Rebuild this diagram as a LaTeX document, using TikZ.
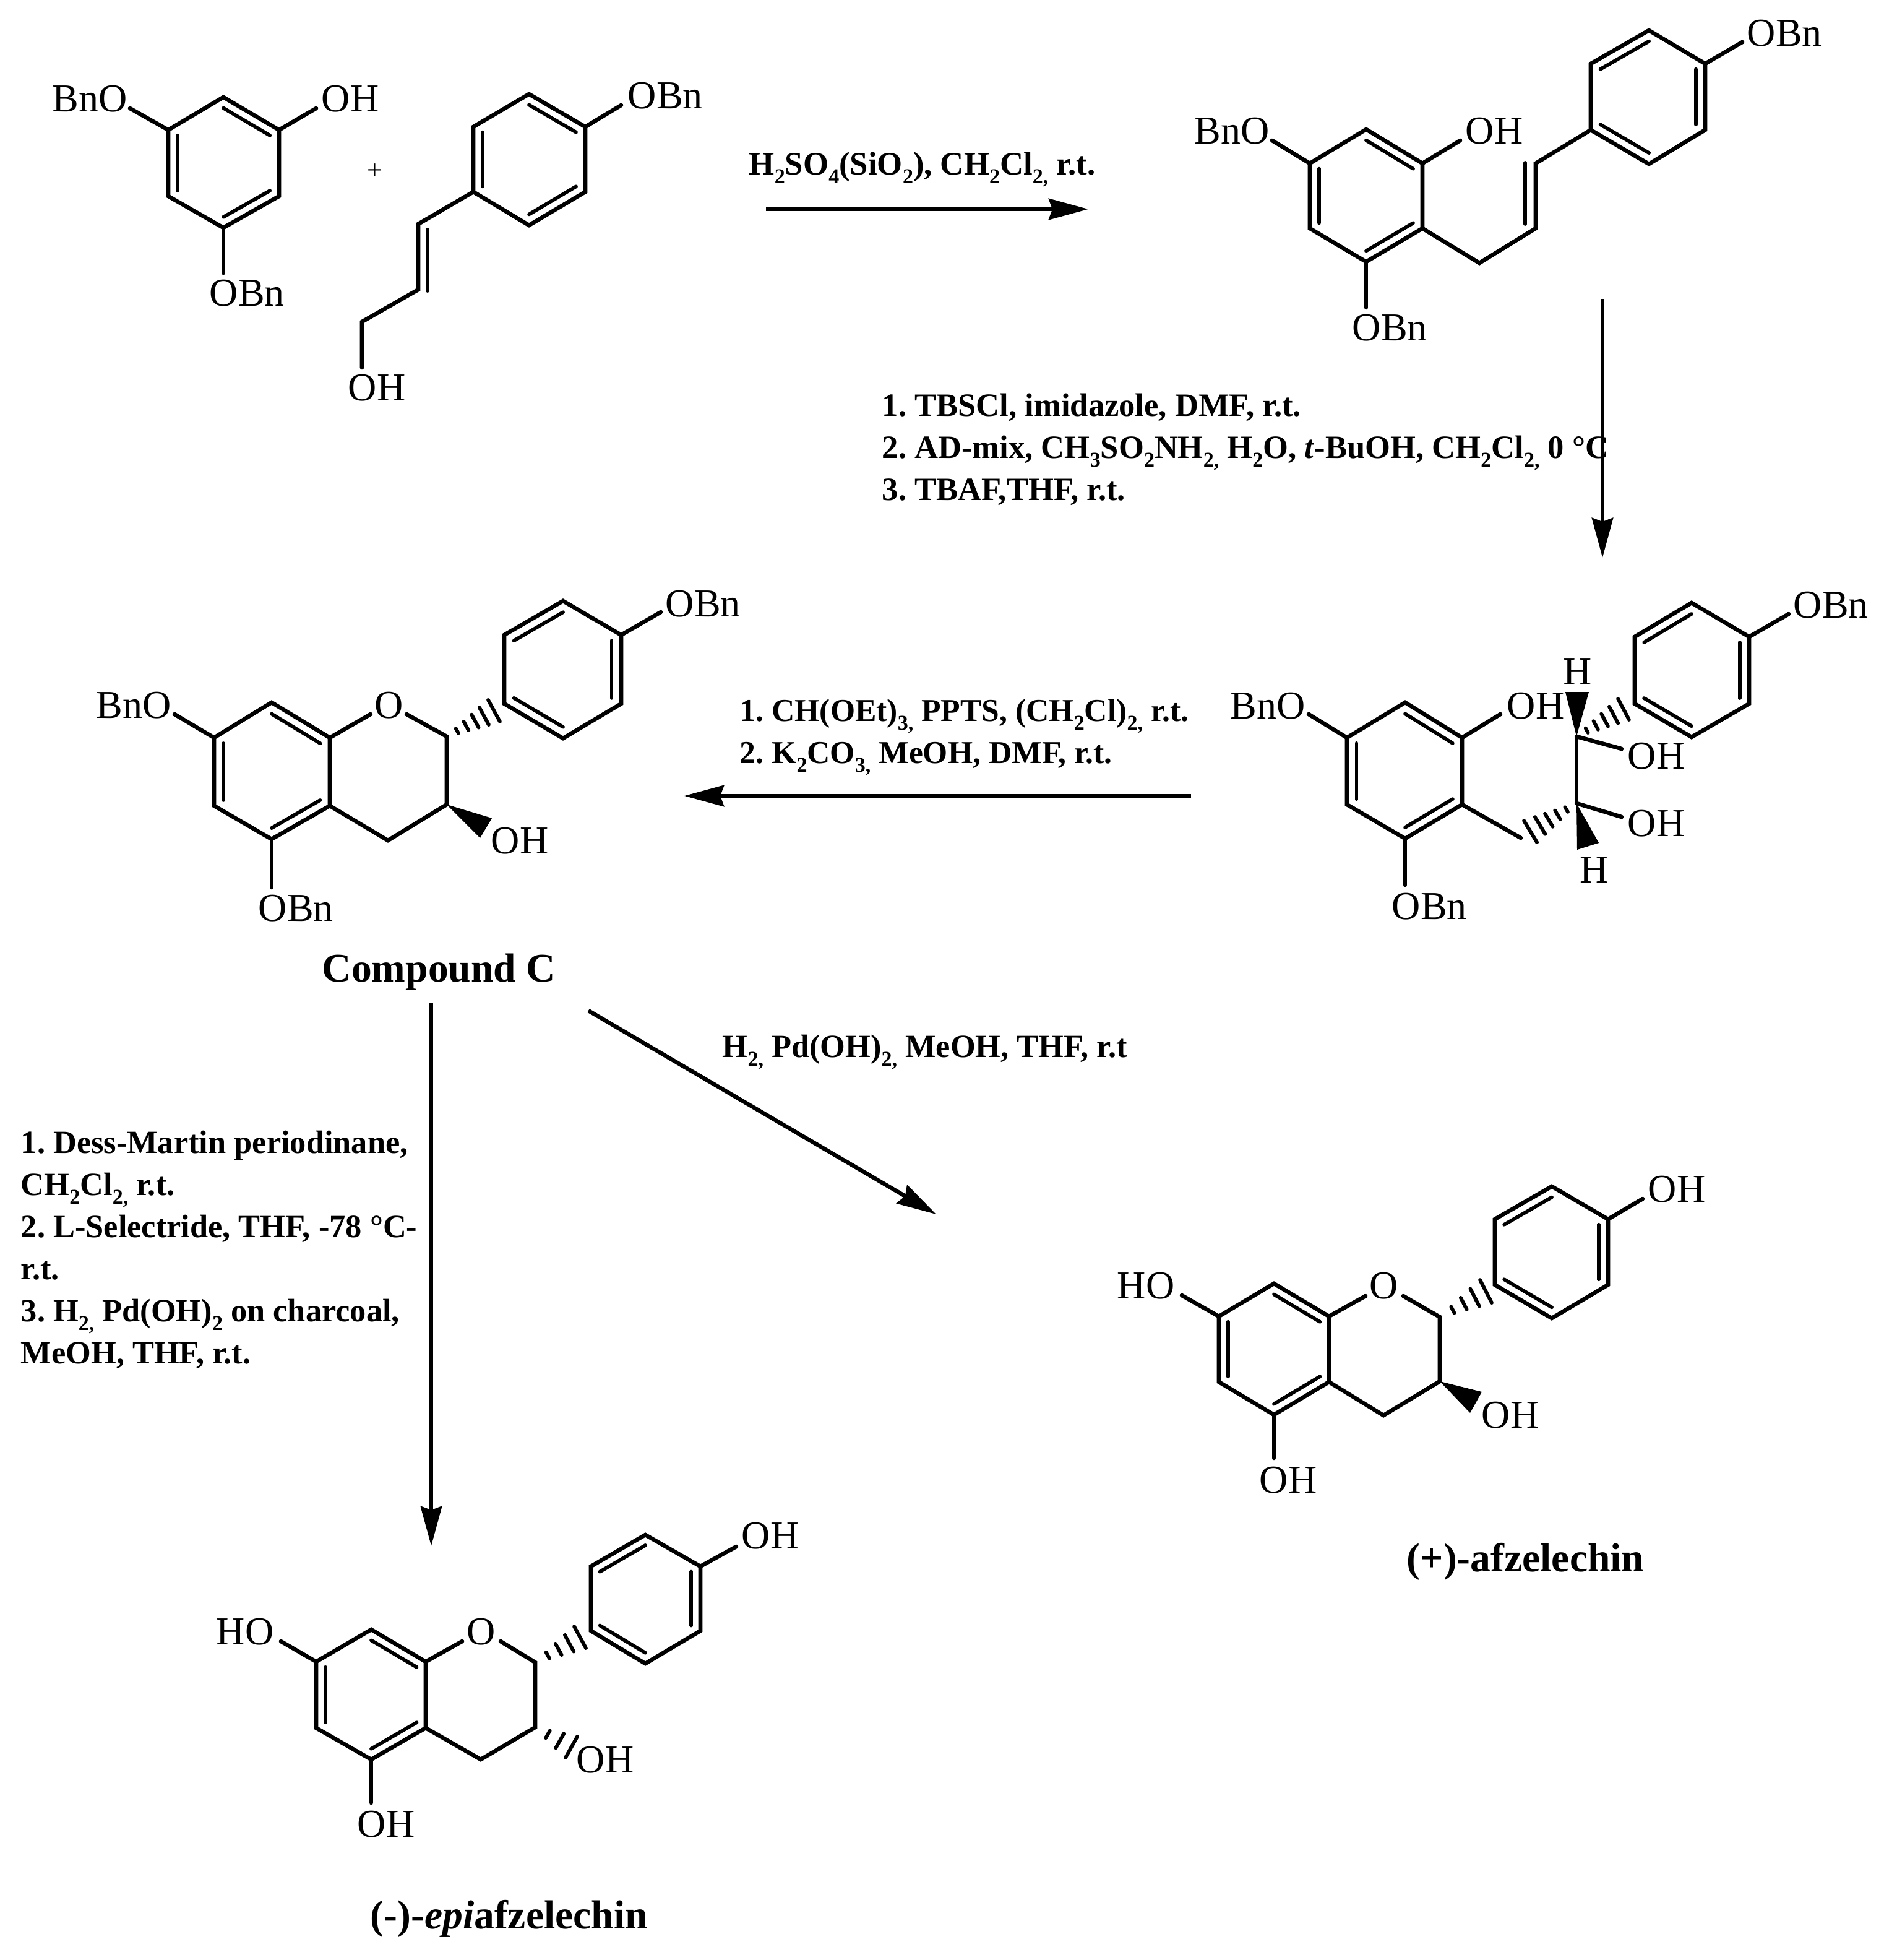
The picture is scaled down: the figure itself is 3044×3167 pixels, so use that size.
\documentclass[tikz,border=0pt]{standalone}
\usepackage{fontspec}
\setmainfont{Liberation Serif}
\usetikzlibrary{calc,arrows.meta}
\tikzset{
  bond/.style={line width=1.65pt,line cap=round,line join=miter},
  innerbond/.style={line width=1.45pt,line cap=round},
  hashbond/.style={line width=1.45pt,line cap=round},
  rxn/.style={line width=1.65pt,-{Stealth[length=16pt,width=8.5pt,inset=1.5pt]}},
  atomlab/.style={inner sep=0pt,anchor=base west,font=\fontsize{16}{16}\selectfont},
  reag/.style={inner sep=0pt,anchor=base west,align=left},
  ttl/.style={inner sep=0pt,anchor=base west,font=\bfseries\fontsize{16.4}{18}\selectfont}
}
\newcommand{\rf}[1]{\bfseries\fontsize{#1}{17}\selectfont\frenchspacing}
\newcommand{\dn}[1]{\raisebox{-3.5pt}{\fontsize{8.5}{8.5}\selectfont #1}}
% prefix, xleft, xmid, xright, ytop, y2, y3, ybottom
\newcommand{\hexa}[8]{%
  \coordinate (#11) at (#2,#6);
  \coordinate (#12) at (#3,#5);
  \coordinate (#13) at (#4,#6);
  \coordinate (#14) at (#4,#7);
  \coordinate (#15) at (#3,#8);
  \coordinate (#16) at (#2,#7);
  \coordinate (#1c) at (#3,{(#6+#7)/2});
  \draw[bond] (#11)--(#12)--(#13)--(#14)--(#15)--(#16)--cycle;}
\newcommand{\dbl}[3]{\draw[innerbond] ($(#1#2)!.165!(#1c)$) -- ($(#1#3)!.165!(#1c)$);}
\newcommand{\hashw}[4]{\foreach \t in {#4} \draw[hashbond] ($(#1)!\t!(#2)$) -- ($(#1)!\t!(#3)$);}
\newcommand{\solidw}[3]{\fill (#1) -- (#2) -- (#3) -- cycle;}
\begin{document}
\begin{tikzpicture}[x=.25pt,y=-.25pt]
\useasboundingbox (0,0) rectangle (3044,3167);
% ---------- molecule 1
\hexa{pa}{272}{361}{451}{157}{210}{317}{368}
\dbl{pa}{6}{1}\dbl{pa}{2}{3}\dbl{pa}{4}{5}
\coordinate (pae1) at (210,175); \coordinate (pae3) at (511,175); \coordinate (pae5) at (361,441);
\draw[bond] (pa1)--(pae1); \draw[bond] (pa3)--(pae3); \draw[bond] (pa5)--(pae5);
\node[atomlab] (l1) at (84,181) {BnO};
\node[atomlab] (l2) at (519,181) {OH};
\node[atomlab] (l3) at (338,495) {OBn};
\node[inner sep=0pt,font=\fontsize{11}{11}\selectfont] (plus) at (606,277) {+};
% ---------- molecule 2
\hexa{pb}{765}{855}{946}{152}{205}{310}{364}
\dbl{pb}{6}{1}\dbl{pb}{2}{3}\dbl{pb}{4}{5}
\coordinate (c1) at (676,362); \coordinate (c2) at (676,468); \coordinate (c3) at (585,520); \coordinate (c4) at (585,594);
\coordinate (c1i) at (691,371); \coordinate (c2i) at (691,470);
\coordinate (pbe3) at (1004,170);
\draw[bond] (pb6)--(c1)--(c2)--(c3)--(c4);
\draw[innerbond] (c1i)--(c2i);
\draw[bond] (pb3)--(pbe3);
\node[atomlab] (l4) at (1014,176) {OBn};
\node[atomlab] (l5) at (562,647) {OH};
% ---------- molecule 3
\hexa{qa}{2117}{2208}{2299}{209}{264}{369}{423}
\dbl{qa}{6}{1}\dbl{qa}{2}{3}\dbl{qa}{4}{5}
\hexa{qb}{2571}{2665}{2756}{49}{103}{210}{265}
\dbl{qb}{1}{2}\dbl{qb}{3}{4}\dbl{qb}{5}{6}
\coordinate (d1) at (2391,425); \coordinate (d2) at (2482,369); \coordinate (d3) at (2482,264);
\coordinate (d2i) at (2465,362); \coordinate (d3i) at (2465,263);
\draw[bond] (qa4)--(d1)--(d2)--(d3)--(qb6);
\draw[innerbond] (d2i)--(d3i);
\coordinate (qae1) at (2056,227); \coordinate (qae3) at (2360,227); \coordinate (qae5) at (2208,497); \coordinate (qbe3) at (2816,68);
\draw[bond] (qa1)--(qae1); \draw[bond] (qa3)--(qae3); \draw[bond] (qa5)--(qae5); \draw[bond] (qb3)--(qbe3);
\node[atomlab] (l6) at (1930,233) {BnO};
\node[atomlab] (l7) at (2368,233) {OH};
\node[atomlab] (l8) at (2185,551) {OBn};
\node[atomlab] (l9) at (2823,75) {OBn};
% ---------- molecule 4 (diol)
\hexa{ra}{2177}{2271}{2363}{1135}{1192}{1300}{1355}
\dbl{ra}{6}{1}\dbl{ra}{2}{3}\dbl{ra}{4}{5}
\hexa{rb}{2642}{2734}{2827}{974}{1029}{1137}{1191}
\dbl{rb}{1}{2}\dbl{rb}{3}{4}\dbl{rb}{5}{6}
\coordinate (e1) at (2548,1190); \coordinate (e2) at (2548,1298); \coordinate (e3) at (2458,1354);
\coordinate (e1o) at (2621,1210); \coordinate (e2o) at (2621,1320);
\draw[bond] (e1)--(e2); \draw[bond] (e1)--(e1o); \draw[bond] (e2)--(e2o); \draw[bond] (ra4)--(e3);
\coordinate (raE1) at (2115,1154); \coordinate (raE3) at (2425,1154); \coordinate (raE5) at (2271,1430); \coordinate (rbE3) at (2891,992);
\draw[bond] (ra1)--(raE1); \draw[bond] (ra3)--(raE3); \draw[bond] (ra5)--(raE5); \draw[bond] (rb3)--(rbE3);
\coordinate (w1a) at (2530,1118); \coordinate (w1b) at (2568,1118);
\coordinate (w2a) at (2549,1373); \coordinate (w2b) at (2584,1362);
\solidw{e1}{w1a}{w1b}
\solidw{e2}{w2a}{w2b}
\coordinate (h1a) at (2615,1129); \coordinate (h1b) at (2633,1163);
\coordinate (h2a) at (2463,1326); \coordinate (h2b) at (2484,1361);
\hashw{e1}{h1a}{h1b}{.22,.41,.6,.79,1}
\hashw{e2}{h2a}{h2b}{.22,.41,.6,.79,1}
\node[atomlab] (l10) at (1988,1161) {BnO};
\node[atomlab] (l11) at (2435,1161) {OH};
\node[atomlab] (l12) at (2249,1485) {OBn};
\node[atomlab] (l13) at (2898,998) {OBn};
\node[atomlab] (l14) at (2526,1106) {H};
\node[atomlab] (l15) at (2553,1426) {H};
\node[atomlab] (l16) at (2630,1242) {OH};
\node[atomlab] (l17) at (2630,1351) {OH};
% ---------- compound C
\hexa{sa}{346}{439}{533}{1135}{1192}{1302}{1356}
\dbl{sa}{6}{1}\dbl{sa}{2}{3}\dbl{sa}{4}{5}
\hexa{sb}{815}{910}{1004}{971}{1026}{1137}{1193}
\dbl{sb}{1}{2}\dbl{sb}{3}{4}\dbl{sb}{5}{6}
\coordinate (f1) at (599,1154); \coordinate (f2) at (657,1154); \coordinate (f3) at (722,1190); \coordinate (f4) at (722,1300); \coordinate (f5) at (627,1358);
\draw[bond] (sa3)--(f1); \draw[bond] (f2)--(f3)--(f4)--(f5)--(sa4);
\coordinate (saE1) at (282,1154); \coordinate (saE5) at (439,1434); \coordinate (sbE3) at (1068,989);
\draw[bond] (sa1)--(saE1); \draw[bond] (sa5)--(saE5); \draw[bond] (sb3)--(sbE3);
\coordinate (sw1) at (795,1322); \coordinate (sw2) at (776,1354);
\solidw{f4}{sw1}{sw2}
\coordinate (sh1) at (789,1131); \coordinate (sh2) at (808,1166);
\hashw{f3}{sh1}{sh2}{.22,.41,.6,.79,1}
\node[atomlab] (l18) at (155,1160) {BnO};
\node[atomlab] (l19) at (605,1160) {O};
\node[atomlab] (l20) at (1075,996) {OBn};
\node[atomlab] (l21) at (793,1379) {OH};
\node[atomlab] (l22) at (417,1488) {OBn};
\node[ttl] (t1) at (520,1586) {Compound C};
% ---------- (+)-afzelechin
\hexa{ua}{1970}{2059}{2148}{2074}{2127}{2233}{2286}
\dbl{ua}{6}{1}\dbl{ua}{2}{3}\dbl{ua}{4}{5}
\hexa{ub}{2416}{2508}{2599}{1917}{1970}{2076}{2130}
\dbl{ub}{1}{2}\dbl{ub}{3}{4}\dbl{ub}{5}{6}
\coordinate (g1) at (2207,2094); \coordinate (g2) at (2268,2094); \coordinate (g3) at (2327,2128); \coordinate (g4) at (2327,2232); \coordinate (g5) at (2236,2287);
\draw[bond] (ua3)--(g1); \draw[bond] (g2)--(g3)--(g4)--(g5)--(ua4);
\coordinate (uaE1) at (1910,2093); \coordinate (uaE5) at (2059,2356); \coordinate (ubE3) at (2655,1937);
\draw[bond] (ua1)--(uaE1); \draw[bond] (ua5)--(uaE5); \draw[bond] (ub3)--(ubE3);
\coordinate (uw1) at (2395,2249); \coordinate (uw2) at (2376,2283);
\solidw{g4}{uw1}{uw2}
\coordinate (uh1) at (2392,2068); \coordinate (uh2) at (2411,2105);
\hashw{g3}{uh1}{uh2}{.28,.52,.76,1}
\node[atomlab] (l23) at (1805,2098) {HO};
\node[atomlab] (l24) at (2213,2098) {O};
\node[atomlab] (l25) at (2663,1942) {OH};
\node[atomlab] (l26) at (2394,2307) {OH};
\node[atomlab] (l27) at (2035,2412) {OH};
\node[ttl] (t2) at (2273,2539) {(+)-afzelechin};
% ---------- (-)-epiafzelechin
\hexa{va}{511}{600}{688}{2633}{2685}{2792}{2843}
\dbl{va}{6}{1}\dbl{va}{2}{3}\dbl{va}{4}{5}
\hexa{vb}{955}{1043}{1132}{2480}{2531}{2635}{2688}
\dbl{vb}{1}{2}\dbl{vb}{3}{4}\dbl{vb}{5}{6}
\coordinate (k1) at (747,2652); \coordinate (k2) at (809,2652); \coordinate (k3) at (865,2686); \coordinate (k4) at (865,2791); \coordinate (k5) at (777,2843);
\draw[bond] (va3)--(k1); \draw[bond] (k2)--(k3)--(k4)--(k5)--(va4);
\coordinate (vaE1) at (454,2652); \coordinate (vaE5) at (600,2913); \coordinate (vbE3) at (1190,2499);
\draw[bond] (va1)--(vaE1); \draw[bond] (va5)--(vaE5); \draw[bond] (vb3)--(vbE3);
\coordinate (vh1) at (928,2628); \coordinate (vh2) at (947,2663);
\hashw{k3}{vh1}{vh2}{.28,.52,.76,1}
\coordinate (vh3) at (933,2806); \coordinate (vh4) at (914,2840);
\hashw{k4}{vh3}{vh4}{.35,.68,1}
\node[atomlab] (l28) at (349,2657) {HO};
\node[atomlab] (l29) at (754,2657) {O};
\node[atomlab] (l30) at (1198,2502) {OH};
\node[atomlab] (l31) at (931,2864) {OH};
\node[atomlab] (l32) at (577,2968) {OH};
\node[ttl] (t3) at (598,3116) {(-)-\textit{epi}afzelechin};
% ---------- reaction arrows
\coordinate (ar1s) at (1238,338); \coordinate (ar1e) at (1759,338);
\coordinate (ar2s) at (2590,483); \coordinate (ar2e) at (2590,901);
\coordinate (ar3s) at (1925,1286); \coordinate (ar3e) at (1106,1286);
\coordinate (ar4s) at (697,1620); \coordinate (ar4e) at (697,2498);
\coordinate (ar5s) at (951,1633); \coordinate (ar5e) at (1513,1962);
\draw[rxn] (ar1s)--(ar1e);
\draw[rxn] (ar2s)--(ar2e);
\draw[rxn] (ar3s)--(ar3e);
\draw[rxn] (ar4s)--(ar4e);
\draw[rxn] (ar5s)--(ar5e);
% ---------- reagents
\node[reag,font=\rf{13.2}] (r1) at (1210,283) {H\dn{2}SO\dn{4}(SiO\dn{2}), CH\dn{2}Cl\dn{2,} r.t.};
\node[reag,font=\rf{13.15}] (r2) at (1425,808) {1. TBSCl, imidazole, DMF, r.t.\\
2. AD-mix, CH\dn{3}SO\dn{2}NH\dn{2,} H\dn{2}O, \textit{t}-BuOH, CH\dn{2}Cl\dn{2,} 0 °C\\
3. TBAF,THF, r.t.};
\node[reag,font=\rf{12.9}] (r3) at (1195,1233) {1. CH(OEt)\dn{3,} PPTS, (CH\dn{2}Cl)\dn{2,} r.t.\\
2. K\dn{2}CO\dn{3,} MeOH, DMF, r.t.};
\node[reag,font=\rf{13.1}] (r4) at (1167,1708) {H\dn{2,} Pd(OH)\dn{2,} MeOH, THF, r.t};
\node[reag,font=\rf{13.1}] (r5) at (33,2203) {1. Dess-Martin periodinane,\\
CH\dn{2}Cl\dn{2,} r.t.\\
2. L-Selectride, THF, -78 °C-\\
r.t.\\
3. H\dn{2,} Pd(OH)\dn{2} on charcoal,\\
MeOH, THF, r.t.};
\end{tikzpicture}
\end{document}
